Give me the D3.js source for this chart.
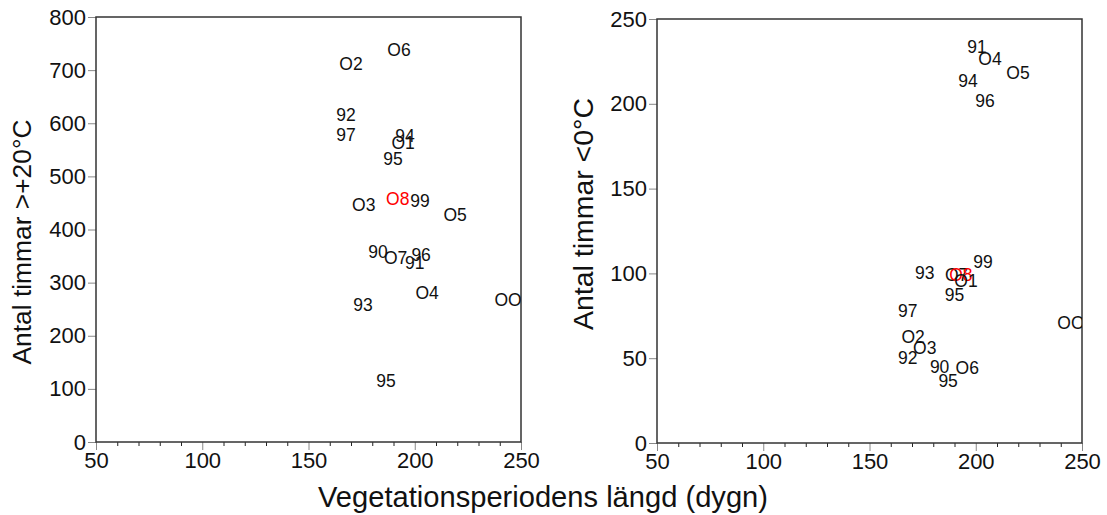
<!DOCTYPE html>
<html><head><meta charset="utf-8">
<script src="https://cdn.jsdelivr.net/npm/d3@7"></script>
<style>
body{margin:0;background:#fff;}
text{font-family:"Liberation Sans",Arial,sans-serif;}
</style></head>
<body><svg id="c" width="1107" height="515"></svg>
<script>
// ---- data ----
const xDomain = [50, 250];
const xTicks = [50, 100, 150, 200, 250];
const xMinorTicks = d3.range(50, 251, 10);
const xTitle = "Vegetationsperiodens längd (dygn)";

const leftYDomain = [0, 800];
const leftYTicks = [0, 100, 200, 300, 400, 500, 600, 700, 800];
const leftYTitle = "Antal timmar >+20°C";
const leftLabels = ["O6","O2","92","97","94","O1","95","O8","99","O3","O5","90","O7","96","91","O4","93","OO","95"];
const leftX      = [192.6,170,167.6,167.6,195.4,194.5,189.8,192,202.5,176,219,182.7,191,203,200,205.8,175.6,243.9,186.5];
const leftY      = [738,711,615,578,576,563,533,457,454,446,427,358,346,352,337,280,258,267,114];

const rightYDomain = [0, 250];
const rightYTicks = [0, 50, 100, 150, 200, 250];
const rightYTitle = "Antal timmar <0°C";
const rightLabels = ["91","O4","O5","94","96","99","93","O7","O8","O1","95","97","O2","O3","92","90","O6","95","OO"];
const rightX      = [200.6,206.7,219.9,196.4,204.4,203.4,176,191,193,195.4,190,168,170.5,176,168,183,196,187,244.8];
const rightY      = [233.5,226.5,218,213.5,201.8,106.5,100,98.8,98.8,95.3,87,77.6,62.4,55.9,50,44.7,44,36.5,71];

const highlight = "O8";

// ---- drawing ----
const svg = d3.select("#c");
const FONT = "'Liberation Sans',Arial,sans-serif";

function fitText(sel, target){
  const w = sel.node().getComputedTextLength();
  const fs = parseFloat(sel.style("font-size"));
  sel.style("font-size", (fs*target/w).toFixed(2)+"px");
}

function panel(opts){
  const {x0,x1,y0,y1,yDomain,yTicks,labels,xs,ys,title,titleX,titleY,titleLen,id} = opts;
  const x = d3.scaleLinear().domain(xDomain).range([x0,x1]);
  const y = d3.scaleLinear().domain(yDomain).range([y1,y0]);
  const g = svg.append("g");

  svg.append("clipPath").attr("id",id).append("rect")
    .attr("x",x0).attr("y",y0).attr("width",x1-x0).attr("height",y1-y0);

  // y axis ticks
  const yAx = g.append("g").attr("transform",`translate(${x0},0)`)
    .call(d3.axisLeft(y).tickValues(yTicks).tickSize(8).tickPadding(2).tickFormat(d3.format("d")));
  yAx.select(".domain").remove();
  yAx.selectAll(".tick line").attr("stroke","#888").attr("stroke-width",1);
  yAx.selectAll(".tick text").attr("fill","#111").style("font-size","22px").style("font-family",FONT);

  // x minor ticks
  const xMin = g.append("g").attr("transform",`translate(0,${y1})`)
    .call(d3.axisBottom(x).tickValues(xMinorTicks.filter(v=>!xTicks.includes(v))).tickSize(4).tickFormat(""));
  xMin.select(".domain").remove();
  xMin.selectAll(".tick line").attr("stroke","#222").attr("stroke-width",1);

  // x major ticks
  const xAx = g.append("g").attr("transform",`translate(0,${y1})`)
    .call(d3.axisBottom(x).tickValues(xTicks).tickSize(8).tickPadding(2).tickFormat(d3.format("d")));
  xAx.select(".domain").remove();
  xAx.selectAll(".tick line").attr("stroke","#888").attr("stroke-width",1);
  xAx.selectAll(".tick text").attr("fill","#111").style("font-size","22px").style("font-family",FONT);

  // frame
  g.append("rect").attr("x",x0).attr("y",y0).attr("width",x1-x0).attr("height",y1-y0)
    .attr("fill","none").attr("stroke","#333").attr("stroke-width",1.5);

  // labels
  const pts = labels.map((l,i)=>({l, vx:xs[i], vy:ys[i]}));
  g.append("g").attr("clip-path",`url(#${id})`)
    .selectAll("text").data(pts).join("text")
    .attr("x",d=>x(d.vx)).attr("y",d=>y(d.vy))
    .attr("text-anchor","middle").attr("dominant-baseline","central")
    .attr("fill",d=>d.l===highlight?"#ff0000":"#111")
    .style("font-size","17.5px")
    .text(d=>d.l);

  // y title
  const t = g.append("text").attr("transform",`translate(${titleX},${titleY}) rotate(-90)`)
    .attr("text-anchor","middle").attr("dominant-baseline","central")
    .attr("fill","#111").style("font-size","21px").text(title);
  fitText(t, titleLen);
}

panel({x0:96,x1:521,y0:17,y1:442,yDomain:leftYDomain,yTicks:leftYTicks,
  labels:leftLabels,xs:leftX,ys:leftY,title:leftYTitle,titleX:22,titleY:242,titleLen:245,id:"clipL"});
panel({x0:657,x1:1082,y0:19,y1:443,yDomain:rightYDomain,yTicks:rightYTicks,
  labels:rightLabels,xs:rightX,ys:rightY,title:rightYTitle,titleX:583,titleY:214,titleLen:232,id:"clipR"});

const xt = svg.append("text").attr("x",543).attr("y",497)
  .attr("text-anchor","middle").attr("dominant-baseline","central")
  .attr("fill","#111").style("font-size","21px").text(xTitle);
fitText(xt, 450);
</script>
</body></html>
